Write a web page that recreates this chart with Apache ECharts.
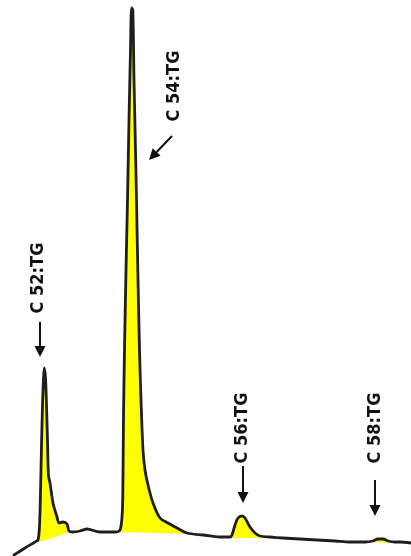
<!DOCTYPE html>
<html><head><meta charset="utf-8">
<script src="https://cdn.jsdelivr.net/npm/echarts@6/dist/echarts.min.js"></script>
<style>html,body{margin:0;padding:0;background:#fff}#c{width:411px;height:556px}</style>
</head><body><div id="c"></div>
<script>
// Retention time (arbitrary units) and detector signal (arbitrary units)
var time = [14,25,35,38,39.5,40.5,41.5,42.5,43.5,44.3,45.5,46.5,47.5,48.5,50,53,57,59,63,67,69,73,80,87,100,115,120,122,
  122.8,123.5,124.5,126,127.5,129,130.5,131.6,132.8,134,135.5,136.5,138,139.5,141,143,145,148,153,160,168,177,187,203,220,230,
  232,235,238,242,245,250,255,260,270,283,300,317,335,350,365,373,378,383,388,395,400,411];
var signal = [1,8,14,16,30,63,110,150,178,188,178,150,115,80,73,53,39,33,34,32,25,24,25,27,24,24,26,39,
  60,140,206,286,356,436,506,548,546,476,406,356,276,206,156,106,86,71,53,38,33,28,23,21,19,19,
  21,31,38,40,38,29,23,20,19,18,17,16,15,14,14,15,17,17,15,14,14,13];
// Integrated peak areas: start/end time and baseline signal at each end
var peakNames = ["C 52:TG","C 54:TG","C 56:TG","C 58:TG"];
var fillStart = [39,119,231,372];
var fillEnd = [70,190,262,391];
var baseStart = [14,24,18,14];
var baseEnd = [24,22,18,13];
// Annotation anchors (time, signal): label centre, arrow tail, arrow tip
var labelX = [38,174,242,375];
var labelY = [278,470,128,128];
var arrowX0 = [40,172,243,375];
var arrowY0 = [234,420,90,76];
var arrowX1 = [40,149,243,375];
var arrowY1 = [199,396,53,40];

var chart = echarts.init(document.getElementById('c'), null, {renderer:'canvas'});
var fillData = peakNames.map(function(n,i){return [fillStart[i],fillEnd[i],baseStart[i],baseEnd[i]];});
var annData = peakNames.map(function(n,i){return [labelX[i],labelY[i],arrowX0[i],arrowY0[i],arrowX1[i],arrowY1[i]];});
var trace = time.map(function(t,i){return [t,signal[i]];});

chart.setOption({
  animation:false,
  grid:{left:0,right:0,top:0,bottom:0},
  xAxis:{type:'value',min:0,max:411,show:false},
  yAxis:{type:'value',min:0,max:556,show:false},
  series:[
    {type:'custom',z:1,data:fillData,renderItem:function(params,api){
      var x0=api.value(0),x1=api.value(1),b0=api.value(2),b1=api.value(3);
      var pts=[api.coord([x0,b0])];
      for(var k=0;k<time.length;k++){ if(time[k]>x0&&time[k]<x1) pts.push(api.coord([time[k],signal[k]])); }
      pts.push(api.coord([x1,b1]));
      return {type:'polygon',shape:{points:pts},style:{fill:'#ffff00',stroke:null}};
    }},
    {type:'line',z:2,data:trace,showSymbol:false,smooth:0.3,
      lineStyle:{color:'#1e1e1e',width:2.8,join:'round',cap:'round'}},
    {type:'custom',z:3,data:annData,renderItem:function(params,api){
      var i=params.dataIndex;
      var lp=api.coord([api.value(0),api.value(1)]);
      var a0=api.coord([api.value(2),api.value(3)]);
      var a1=api.coord([api.value(4),api.value(5)]);
      var dx=a1[0]-a0[0],dy=a1[1]-a0[1],L=Math.sqrt(dx*dx+dy*dy),ux=dx/L,uy=dy/L;
      var hl=11,hw=5.5;
      var bx=a1[0]-ux*hl,by=a1[1]-uy*hl;
      return {type:'group',children:[
        {type:'text',x:lp[0],y:lp[1],rotation:Math.PI/2,style:{text:peakNames[i],fill:'#111',
          font:'bold 18px "Liberation Sans Narrow", "Arial Narrow", "DejaVu Sans Condensed", sans-serif',align:'center',verticalAlign:'middle'}},
        {type:'line',shape:{x1:a0[0],y1:a0[1],x2:bx,y2:by},style:{stroke:'#111',lineWidth:2}},
        {type:'polygon',shape:{points:[[a1[0],a1[1]],[bx-uy*hw,by+ux*hw],[bx+uy*hw,by-ux*hw]]},style:{fill:'#111'}}
      ]};
    }}
  ]
});
</script></body></html>
